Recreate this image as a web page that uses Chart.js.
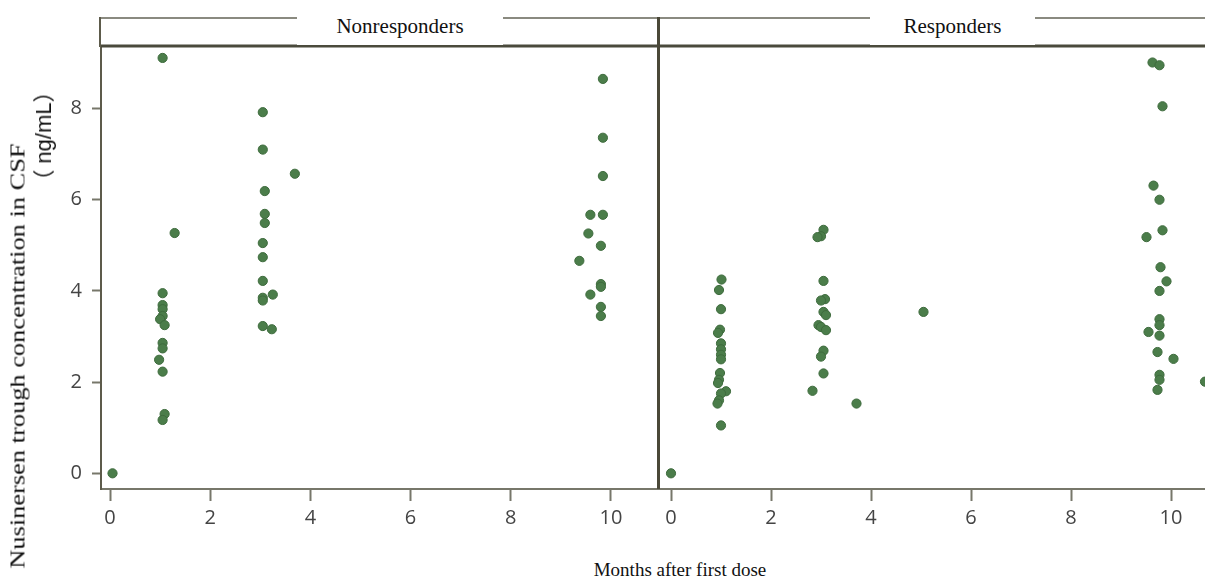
<!DOCTYPE html>
<html>
<head>
<meta charset="utf-8">
<script src="https://cdn.jsdelivr.net/npm/chart.js@4.4.1/dist/chart.umd.min.js"></script>
<style>
  body { margin: 0; background: #fff; }
  #wrap { position: relative; width: 1205px; height: 579px; overflow: hidden; }
  canvas { position: absolute; top: 0; }
  .panel { position: absolute; top: 8px; height: 37px; background: #fff; font: 21px "Times New Roman", "Liberation Serif", serif; color: #111; text-align: center; line-height: 37px; }
  .title { position: absolute; white-space: nowrap; color: #111; transform: translate(-50%, -50%); }
</style>
</head>
<body>
<div id="wrap">
  <canvas id="left" width="660" height="545" style="left:0"></canvas>
  <canvas id="right" width="548" height="545" style="left:657px"></canvas>
  <div class="panel" style="left:297px; width:206px">Nonresponders</div>
  <div class="panel" style="left:870px; width:165px">Responders</div>
  <div class="title" style="left:680px; top:570px; font:19px 'Times New Roman','Liberation Serif',serif">Months after first dose</div>
  <div class="title" style="left:18px; top:356px; font:20px 'Times New Roman','Liberation Serif',serif; transform: translate(-50%,-50%) rotate(-90deg) scaleX(1.32)">Nusinersen trough concentration in CSF</div>
  <div class="title" style="left:41px; top:136px; font:22px 'Liberation Sans','Noto Sans CJK SC',sans-serif; transform: translate(-50%,-50%) rotate(-90deg)">（ ng/mL）</div>
</div>
<script>
window.addEventListener('DOMContentLoaded', (event) => {
    load_graph()
})

// months after first dose and trough concentration (ng/mL)
const nonMonths = [0.05,
  1.05, 1.29, 1.05, 1.05, 1.05, 1.05, 1.0, 1.09, 1.05, 1.05, 0.98, 1.05, 1.09, 1.05,
  3.05, 3.05, 3.69, 3.09, 3.09, 3.09, 3.05, 3.05, 3.05, 3.05, 3.05, 3.25, 3.05, 3.23,
  9.84, 9.84, 9.84, 9.59, 9.84, 9.55, 9.8, 9.37, 9.8, 9.8, 9.59, 9.8, 9.8];
const nonConc = [0,
  9.11, 5.27, 3.95, 3.69, 3.60, 3.45, 3.38, 3.25, 2.86, 2.74, 2.49, 2.23, 1.30, 1.17,
  7.92, 7.10, 6.57, 6.19, 5.69, 5.49, 5.05, 4.74, 4.22, 3.85, 3.79, 3.92, 3.23, 3.16,
  8.65, 7.36, 6.52, 5.67, 5.67, 5.26, 4.99, 4.66, 4.15, 4.09, 3.92, 3.65, 3.45];

const resMonths = [0,
  1.01, 0.96, 1.0, 0.98, 0.94, 1.0, 1.0, 1.0, 1.0, 0.98, 0.96, 0.94, 1.1, 1.0, 0.96, 0.93, 1.0,
  3.05, 3.0, 2.93, 3.05, 3.08, 3.0, 3.05, 3.1, 2.95, 3.0, 3.1, 3.05, 3.0, 3.05, 2.83,
  3.71, 5.05,
  9.63, 9.77, 9.83, 9.65, 9.77, 9.83, 9.51, 9.79, 9.91, 9.77, 9.77, 9.77, 9.77, 9.55, 9.73, 10.05, 9.77, 9.77, 9.73, 10.68];
const resConc = [0,
  4.25, 4.02, 3.60, 3.15, 3.08, 2.85, 2.72, 2.60, 2.50, 2.20, 2.05, 1.98, 1.80, 1.75, 1.60, 1.53, 1.05,
  5.34, 5.20, 5.18, 4.22, 3.82, 3.79, 3.54, 3.47, 3.25, 3.21, 3.14, 2.69, 2.56, 2.19, 1.81,
  1.53, 3.54,
  9.01, 8.95, 8.05, 6.31, 6.00, 5.33, 5.18, 4.52, 4.21, 4.00, 3.38, 3.25, 3.02, 3.10, 2.66, 2.51, 2.16, 2.05, 1.83, 2.01];

const xTicks = [0, 2, 4, 6, 8, 10];
const yTicks = [0, 2, 4, 6, 8];

const dotFill = '#4b7d4a';
const dotEdge = '#3e6b3d';
const tickFont = { family: '"Open Sans", "DejaVu Sans", sans-serif', size: 20 };

function pairs(xs, ys) {
    return xs.map((x, i) => ({ x: x, y: ys[i] }))
}

// header strip lines, left border and the divider between panels
const frame = {
    id: 'frame',
    afterDraw(chart, args, opts) {
        const ctx = chart.ctx
        const a = chart.chartArea
        ctx.save()
        ctx.strokeStyle = '#8a8a80'
        ctx.lineWidth = 2
        ctx.beginPath()
        ctx.moveTo(opts.side == 'left' ? a.left : 0, 18)
        ctx.lineTo(chart.width, 18)
        ctx.stroke()
        ctx.strokeStyle = '#4a4a3c'
        ctx.lineWidth = 3
        ctx.beginPath()
        ctx.moveTo(opts.side == 'left' ? a.left : 0, a.top - 1)
        ctx.lineTo(chart.width, a.top - 1)
        ctx.stroke()
        if (opts.side == 'left') {
            ctx.strokeStyle = '#5d5b4b'
            ctx.lineWidth = 2
            ctx.beginPath()
            ctx.moveTo(a.left - 1, 17)
            ctx.lineTo(a.left - 1, a.top)
            ctx.stroke()
        } else {
            ctx.strokeStyle = '#4a4838'
            ctx.lineWidth = 3
            ctx.beginPath()
            ctx.moveTo(1.5, 17)
            ctx.lineTo(1.5, a.bottom)
            ctx.stroke()
        }
        ctx.restore()
    }
}

function make_chart(id, points, side, xmin, xmax) {
    const config = {
        type: 'scatter',
        data: {
            datasets: [{
                data: points,
                backgroundColor: dotFill,
                borderColor: dotEdge,
                borderWidth: 1,
                pointRadius: 4.6,
                pointHoverRadius: 4.6
            }]
        },
        options: {
            responsive: false,
            animation: false,
            events: [],
            layout: { autoPadding: false, padding: { top: 47, left: 0, right: 0, bottom: 0 } },
            plugins: { legend: { display: false }, tooltip: { enabled: false }, frame: { side: side } },
            scales: {
                x: {
                    type: 'linear',
                    min: xmin,
                    max: xmax,
                    afterBuildTicks: (s) => { s.ticks = xTicks.map(v => ({ value: v })) },
                    afterFit: (s) => { s.height = 545 - 489 },
                    border: { display: true, color: '#77776a', width: 2 },
                    grid: { drawOnChartArea: false, drawTicks: true, tickLength: 12, tickColor: '#77776a', tickWidth: 2 },
                    ticks: { color: '#444', font: tickFont, padding: 5, maxRotation: 0 }
                },
                y: {
                    type: 'linear',
                    display: side == 'left',
                    min: -0.344,
                    max: 9.35,
                    afterBuildTicks: (s) => { s.ticks = yTicks.map(v => ({ value: v })) },
                    afterFit: (s) => { s.width = side == 'left' ? 101 : 0 },
                    border: { display: true, color: '#5d5b4b', width: 2 },
                    grid: { drawOnChartArea: false, drawTicks: true, tickLength: 9, tickColor: '#77776a', tickWidth: 2 },
                    ticks: { color: '#444', font: tickFont, padding: 10 }
                }
            }
        },
        plugins: [frame]
    }
    return new Chart(document.getElementById(id), config)
}

function load_graph() {
    make_chart('left', pairs(nonMonths, nonConc), 'left', -0.18, 10.98)
    make_chart('right', pairs(resMonths, resConc), 'right', -0.28, 10.68)
}
</script>
</body>
</html>
